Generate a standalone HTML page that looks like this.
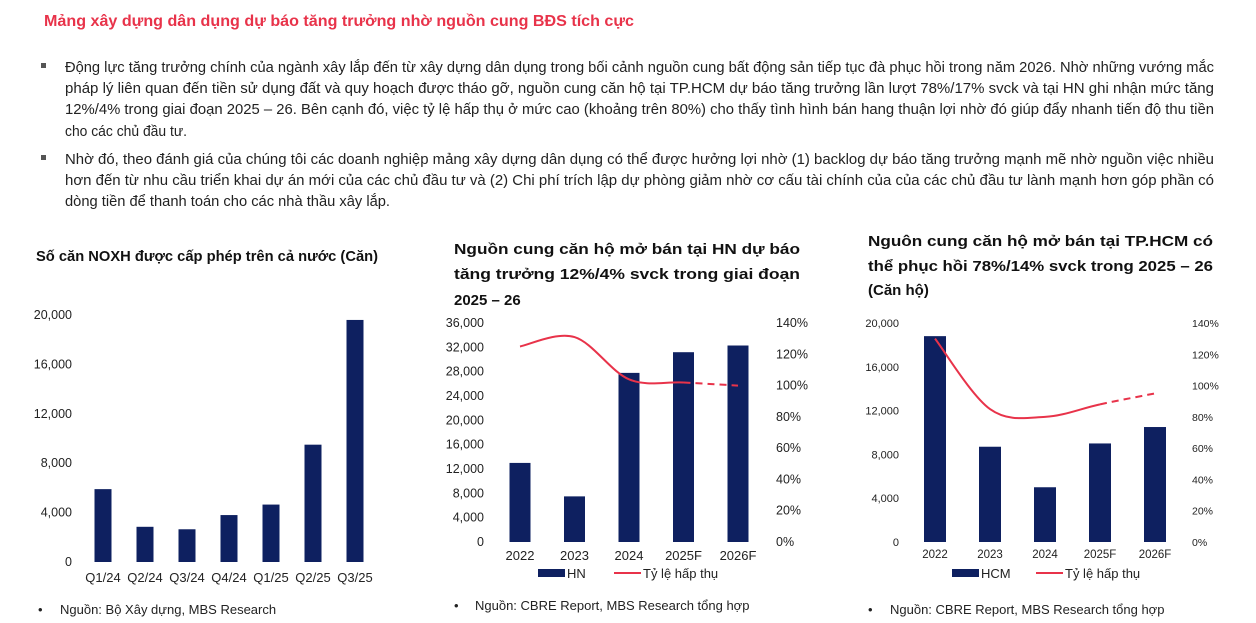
<!DOCTYPE html>
<html><head><meta charset="utf-8">
<style>
html,body{margin:0;padding:0;background:#fff;}
svg{display:block;font-family:"Liberation Sans",Arial,sans-serif;}
</style></head>
<body>
<svg id="page" width="1256" height="623" viewBox="0 0 1256 623" xmlns="http://www.w3.org/2000/svg">
<text x="44" y="26" font-size="16" font-weight="bold" fill="#e8334a" textLength="590" lengthAdjust="spacingAndGlyphs">Mảng xây dựng dân dụng dự báo tăng trưởng nhờ nguồn cung BĐS tích cực</text>
<g font-size="14.5" fill="#222">
<rect x="41" y="63" width="5" height="5" fill="#555"/>
<text x="65" y="72" textLength="1149" lengthAdjust="spacingAndGlyphs">Động lực tăng trưởng chính của ngành xây lắp đến từ xây dựng dân dụng trong bối cảnh nguồn cung bất động sản tiếp tục đà phục hồi trong năm 2026. Nhờ những vướng mắc</text>
<text x="65" y="93" textLength="1149" lengthAdjust="spacingAndGlyphs">pháp lý liên quan đến tiền sử dụng đất và quy hoạch được tháo gỡ, nguồn cung căn hộ tại TP.HCM dự báo tăng trưởng lần lượt 78%/17% svck và tại HN ghi nhận mức tăng</text>
<text x="65" y="114" textLength="1149" lengthAdjust="spacingAndGlyphs">12%/4% trong giai đoạn 2025 – 26. Bên cạnh đó, việc tỷ lệ hấp thụ ở mức cao (khoảng trên 80%) cho thấy tình hình bán hang thuận lợi nhờ đó giúp đẩy nhanh tiến độ thu tiền</text>
<text x="65" y="136" textLength="122" lengthAdjust="spacingAndGlyphs">cho các chủ đầu tư.</text>
</g>
<g font-size="14.5" fill="#222">
<rect x="41" y="155" width="5" height="5" fill="#555"/>
<text x="65" y="164" textLength="1149" lengthAdjust="spacingAndGlyphs">Nhờ đó, theo đánh giá của chúng tôi các doanh nghiệp mảng xây dựng dân dụng có thể được hưởng lợi nhờ (1) backlog dự báo tăng trưởng mạnh mẽ nhờ nguồn việc nhiều</text>
<text x="65" y="185" textLength="1149" lengthAdjust="spacingAndGlyphs">hơn đến từ nhu cầu triển khai dự án mới của các chủ đầu tư và (2) Chi phí trích lập dự phòng giảm nhờ cơ cấu tài chính của của các chủ đầu tư lành mạnh hơn góp phần có</text>
<text x="65" y="206" textLength="325" lengthAdjust="spacingAndGlyphs">dòng tiền để thanh toán cho các nhà thầu xây lắp.</text>
</g>
<g font-weight="bold" font-size="15" fill="#111">
<text x="36" y="261" textLength="342" lengthAdjust="spacingAndGlyphs">Số căn NOXH được cấp phép trên cả nước (Căn)</text>
<g>
<text x="454" y="254" textLength="346" lengthAdjust="spacingAndGlyphs">Nguồn cung căn hộ mở bán tại HN dự báo</text>
<text x="454" y="279" textLength="346" lengthAdjust="spacingAndGlyphs">tăng trưởng 12%/4% svck trong giai đoạn</text>
<text x="454" y="305">2025 – 26</text>
</g>
<g>
<text x="868" y="246" textLength="345" lengthAdjust="spacingAndGlyphs">Nguôn cung căn hộ mở bán tại TP.HCM có</text>
<text x="868" y="271" textLength="345" lengthAdjust="spacingAndGlyphs">thể phục hồi 78%/14% svck trong 2025 – 26</text>
<text x="868" y="295">(Căn hộ)</text>
</g>
</g>
<g font-size="13" fill="#222">
<text x="38" y="614">•<tspan x="60">Nguồn: Bộ Xây dựng, MBS Research</tspan></text>
<text x="454" y="610">•<tspan x="475">Nguồn: CBRE Report, MBS Research tổng hợp</tspan></text>
<text x="868" y="614">•<tspan x="890">Nguồn: CBRE Report, MBS Research tổng hợp</tspan></text>
</g>
<g id="c1"></g>
<g id="c2"></g>
<g id="c3"></g>
</svg>
<script>
const c1Categories = ["Q1/24","Q2/24","Q3/24","Q4/24","Q1/25","Q2/25","Q3/25"];
const c1Values = [5900, 2850, 2650, 3800, 4650, 9500, 19600];
const c1Ticks = [0, 4000, 8000, 12000, 16000, 20000];

const c2Categories = ["2022","2023","2024","2025F","2026F"];
const c2Supply = [13000, 7500, 27800, 31200, 32300];
const c2Absorption = [125, 131, 104, 102, 100];
const c2Ticks = [0,4000,8000,12000,16000,20000,24000,28000,32000,36000];
const c2RightTicks = [0,20,40,60,80,100,120,140];

const c3Categories = ["2022","2023","2024","2025F","2026F"];
const c3Supply = [18800, 8700, 5000, 9000, 10500];
const c3Absorption = [130, 85, 80, 88, 95];
const c3Ticks = [0,4000,8000,12000,16000,20000];
const c3RightTicks = [0,20,40,60,80,100,120,140];

const NS="http://www.w3.org/2000/svg";
const NAVY="#0e2060", RED="#e8334a";
function mk(tag, attrs, parent){const e=document.createElementNS(NS,tag);for(const k in attrs)e.setAttribute(k,attrs[k]);parent.appendChild(e);return e;}
function fmt(v){return v.toLocaleString("en-US");}

function drawChart(g, o){
  const yS = v => o.y0 - (v/o.yMax)*(o.y0-o.y1);
  const xS = i => o.x0 + i*o.step;
  o.ticks.forEach(t=>{
    const tx=mk("text",{x:o.labelX,y:yS(t)+4,"text-anchor":"end","font-size":o.tfs,fill:"#222"},g);
    tx.textContent=fmt(t);
    
    
  });
  o.cats.forEach((c,i)=>{
    const h=o.y0-yS(o.vals[i]);
    const r=mk("rect",{x:xS(i)-o.bw/2,y:yS(o.vals[i]),width:o.bw,height:h,fill:NAVY},g);
    
    
    const tx=mk("text",{x:xS(i),y:o.xLabY,"text-anchor":"middle","font-size":o.tfs+0.5,fill:"#222"},g);
    tx.textContent=c;
    
    
  });
  if(o.line){
    const rS = v => o.y0 - (v/140)*(o.y0-o.y1);
    o.rticks.forEach(t=>{
      const tx=mk("text",{x:o.rLabX,y:rS(t)+4,"font-size":o.rfs,fill:"#222"},g);
      tx.textContent=t+"%";
      
      
    });
    const pts=o.line.map((v,i)=>[xS(i),rS(v)]);
    // smooth path via Catmull-Rom for first n-1 points, dashed last segment
    function seg(i){
      const p0=pts[Math.max(i-1,0)],p1=pts[i],p2=pts[i+1],p3=pts[Math.min(i+2,pts.length-1)];
      const c1=[p1[0]+(p2[0]-p0[0])/6,p1[1]+(p2[1]-p0[1])/6];
      const c2=[p2[0]-(p3[0]-p1[0])/6,p2[1]-(p3[1]-p1[1])/6];
      return `C${c1[0]},${c1[1]} ${c2[0]},${c2[1]} ${p2[0]},${p2[1]}`;
    }
    let d=`M${pts[0][0]},${pts[0][1]}`;
    for(let i=0;i<pts.length-2;i++) d+=seg(i);
    const l=mk("path",{d:d,fill:"none",stroke:RED,"stroke-width":2},g);
    
    
    const n=pts.length-2;
    const dl=mk("path",{d:`M${pts[n][0]},${pts[n][1]}`+seg(n),fill:"none",stroke:RED,"stroke-width":2,"stroke-dasharray":"7,5"},g);
    
    
    // legend
    const ly=o.legY;
    const lr=mk("rect",{x:o.legX,y:ly-4,width:27,height:8,fill:NAVY},g);
    
    
    const lt=mk("text",{x:o.legX+29,y:ly+5,"font-size":13,fill:"#222"},g);
    lt.textContent=o.seriesName;
    
    
    const ll=mk("line",{x1:o.legX2,y1:ly,x2:o.legX2+27,y2:ly,stroke:RED,"stroke-width":2},g);
    
    
    const lt2=mk("text",{x:o.legX2+29,y:ly+5,"font-size":13,fill:"#222"},g);
    lt2.textContent="Tỷ lệ hấp thụ";
    
    
  }
}
drawChart(document.getElementById("c1"),{cats:c1Categories,vals:c1Values,ticks:c1Ticks,yMax:20000,y0:562,y1:315,x0:103,step:42,bw:17,labelX:72,xLabY:582,tfs:12.5});
drawChart(document.getElementById("c2"),{cats:c2Categories,vals:c2Supply,ticks:c2Ticks,yMax:36000,y0:542,y1:323,x0:520,step:54.5,bw:21,labelX:484,xLabY:560,tfs:12.5,
  line:c2Absorption,rticks:c2RightTicks,rLabX:776,rfs:12.5,legY:573,legX:538,legX2:614,seriesName:"HN"});
drawChart(document.getElementById("c3"),{cats:c3Categories,vals:c3Supply,ticks:c3Ticks,yMax:20000,y0:542,y1:323,x0:935,step:55,bw:22,labelX:899,xLabY:558,tfs:11,
  line:c3Absorption,rticks:c3RightTicks,rLabX:1192,rfs:10.5,legY:573,legX:952,legX2:1036,seriesName:"HCM"});
</script>
</body></html>
